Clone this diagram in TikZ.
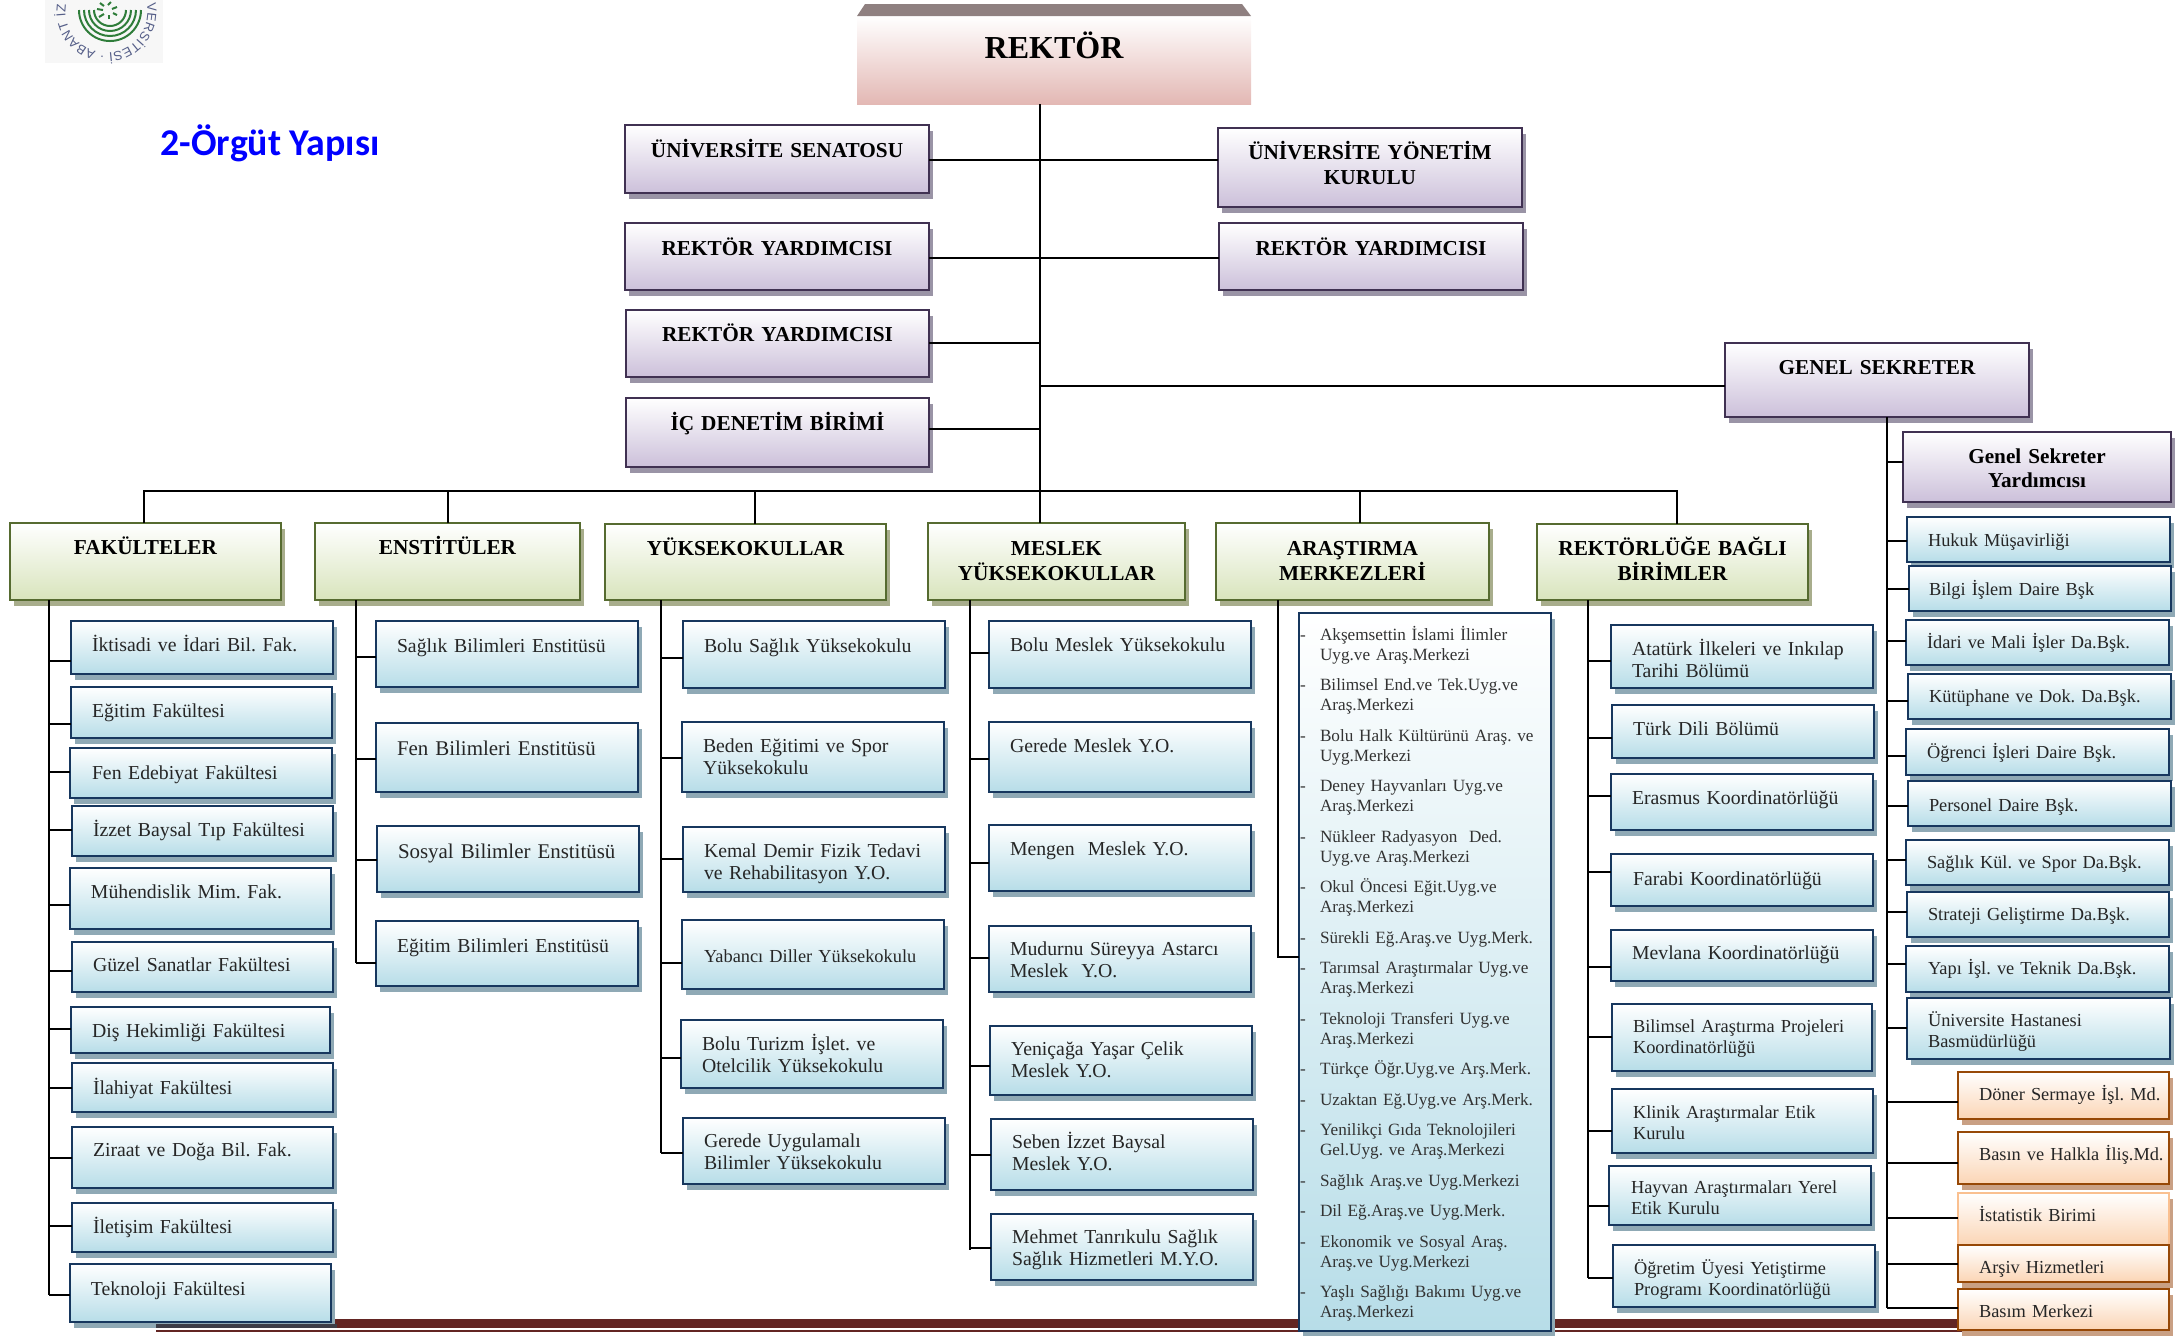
\documentclass[tikz,border=0pt]{standalone}
\usepackage{fontspec}
\setmainfont{Liberation Serif}
\newfontfamily\headfont{Carlito}
\newfontfamily\logofont{Liberation Sans}
\usetikzlibrary{shadows,decorations.text}
\frenchspacing
\newlength\pxu
\setlength\pxu{0.01cm}
\definecolor{blueline}{HTML}{17375E}
\definecolor{bluefill}{HTML}{B7DDE8}
\definecolor{blueshade}{HTML}{8FA9B5}
\definecolor{greenline}{HTML}{566B30}
\definecolor{greenfill}{HTML}{D8E4BC}
\definecolor{greenshade}{HTML}{A8AD8C}
\definecolor{purpleline}{HTML}{403152}
\definecolor{purplefill}{HTML}{CCC0DA}
\definecolor{purpleshade}{HTML}{9A94A6}
\definecolor{orangeline}{HTML}{974806}
\definecolor{orangefill}{HTML}{FBD5B5}
\definecolor{orangeshade}{HTML}{C9A084}
\definecolor{orangelight}{HTML}{FAC090}
\definecolor{rosefill}{HTML}{E3B8B4}
\definecolor{rosetop}{HTML}{8F8080}
\definecolor{barcolor}{HTML}{632523}
\definecolor{barshade}{HTML}{3D3D47}
\definecolor{logogreen}{HTML}{2F7D3A}
\definecolor{logotext}{HTML}{555E88}
\tikzset{
  bx/.style n args={4}{anchor=north west, inner sep=0pt, outer sep=0pt,
    text width=#1*\pxu, text height=#3*\pxu, text depth=(#2-#3)*\pxu,
    execute at begin node={\leftskip=#4\pxu\relax}},
  cx/.style n args={3}{anchor=north west, inner sep=0pt, outer sep=0pt, align=center,
    text width=#1*\pxu, text height=#3*\pxu, text depth=(#2-#3)*\pxu},
  blubox/.style={draw=blueline, line width=2.8\pxu, top color=white, bottom color=bluefill,
    drop shadow={shadow xshift=4\pxu, shadow yshift=-6\pxu, fill=blueshade, opacity=1},
    font=\fontsize{5.62pt}{6.5pt}\selectfont, text=black!85},
  sidebox/.style={blubox, font=\fontsize{5.22pt}{6pt}\selectfont},
  bigbox/.style={blubox, font=\fontsize{5.95pt}{6.5pt}\selectfont},
  orbox/.style={draw=orangeline, line width=2.8\pxu, top color=white, bottom color=orangefill,
    drop shadow={shadow xshift=4\pxu, shadow yshift=-6\pxu, fill=orangeshade, opacity=1},
    font=\fontsize{5.22pt}{6pt}\selectfont, text=black!85},
  grnbox/.style={draw=greenline, line width=2.8\pxu, top color=white, bottom color=greenfill,
    drop shadow={shadow xshift=4\pxu, shadow yshift=-6\pxu, fill=greenshade, opacity=1},
    font=\bfseries\fontsize{6.05pt}{7.25pt}\selectfont},
  purbox/.style={draw=purpleline, line width=2.8\pxu, top color=white, bottom color=purplefill,
    drop shadow={shadow xshift=4\pxu, shadow yshift=-6\pxu, fill=purpleshade, opacity=1},
    font=\bfseries\fontsize{6.05pt}{7.25pt}\selectfont},
  genbox/.style={purbox, font=\bfseries\fontsize{6.03pt}{7.1pt}\selectfont},
  conn/.style={line width=2.4\pxu, black},
  logoline/.style={line width=2\pxu, logogreen}
}
\begin{document}
\begin{tikzpicture}[x=0.01cm, y=-0.01cm]
  \useasboundingbox (0,0) rectangle (2176,1335);
  % logo
  \fill[black!3] (45,0) rectangle (163,63);
  \coordinate (logoc) at (106.5,12);
  \draw[logoline] (79,10) arc[start angle=180, end angle=0, radius=31];
  \draw[logoline] (84,10) arc[start angle=180, end angle=0, radius=26];
  \draw[logoline] (89,10) arc[start angle=180, end angle=0, radius=21];
  \draw[logoline] (94,10) arc[start angle=180, end angle=0, radius=16];
  \draw[logoline] (97,9) -- (103,10);
  \draw[logoline] (99,17) -- (104,14);
  \draw[logoline] (109,19) -- (109,15);
  \draw[logoline] (117,15) -- (113,13);
  \draw[logoline] (117,7) -- (112,9);
  \draw[logoline] (111,2) -- (108,5);
  \draw[logoline] (100,3) -- (104,6);
  \path[decorate, decoration={text along path, text align={fit to path},
    text={|\logofont\fontsize{3.7pt}{3.7pt}\selectfont\color{logotext}|VERSİTESİ · ABANT İZ}}]
    (logoc) ++(-12:41) arc[start angle=-12, end angle=190, radius=41];
  \node[anchor=base west, inner sep=0pt, text=blue, font=\headfont\bfseries\fontsize{10.75pt}{12pt}\selectfont] (baslik) at (160,155) {2-Örgüt Yapısı};

  % bottom bar
  \fill[barcolor] (156,1319) rectangle (1962,1328);
  \fill[barcolor] (156,1329.5) rectangle (1962,1331.5);

  % rector
  \node[anchor=north west, inner sep=0pt, outer sep=0pt, minimum width=394\pxu, minimum height=88\pxu,
    top color=white, bottom color=rosefill, text height=42\pxu, text depth=46\pxu, align=center, text width=394\pxu,
    font=\bfseries\fontsize{9.1pt}{10pt}\selectfont] (rektor) at (857,16) {REKTÖR};
  \fill[rosetop] (rektor.north west) -- ++(8,-12) -- ++(377,0) -- (rektor.north east) -- cycle;

  % staff boxes
  \node[purbox, cx={304}{68}{32}] (senato) at (625,125) {ÜNİVERSİTE SENATOSU};
  \node[purbox, cx={304}{67}{32}] (ry1) at (625,223) {REKTÖR YARDIMCISI};
  \node[purbox, cx={303}{67}{31}] (ry2) at (626,310) {REKTÖR YARDIMCISI};
  \node[purbox, cx={303}{69}{32}] (denetim) at (626,398) {İÇ DENETİM BİRİMİ};
  \node[purbox, cx={304}{79}{31}] (yonetim) at (1218,128) {ÜNİVERSİTE YÖNETİM\\KURULU};
  \node[purbox, cx={304}{67}{32}] (ry3) at (1219,223) {REKTÖR YARDIMCISI};
  \node[genbox, cx={304}{74}{31}] (gensek) at (1725,343) {GENEL SEKRETER};
  \node[genbox, cx={268}{70}{31}] (gsy) at (1903,432) {Genel Sekreter\\Yardımcısı};

  % unit heads
  \node[grnbox, cx={271}{77}{31}] (fak) at (10,523) {FAKÜLTELER};
  \node[grnbox, cx={265}{77}{31}] (ens) at (315,523) {ENSTİTÜLER};
  \node[grnbox, cx={281}{76}{31}] (yuk) at (605,524) {YÜKSEKOKULLAR};
  \node[grnbox, cx={257}{77}{32}] (mes) at (928,523) {MESLEK\\YÜKSEKOKULLAR};
  \node[grnbox, cx={273}{77}{32}] (ars) at (1216,523) {ARAŞTIRMA\\MERKEZLERİ};
  \node[grnbox, cx={271}{76}{31}] (bag) at (1537,524) {REKTÖRLÜĞE BAĞLI\\BİRİMLER};

  % faculties
  \node[blubox, bx={262}{53}{30}{21}] (fak1) at (71,621) {İktisadi ve İdari Bil. Fak.};
  \node[blubox, bx={261}{51}{30}{21}] (fak2) at (71,687) {Eğitim Fakültesi};
  \node[blubox, bx={262}{50}{31}{22}] (fak3) at (70,748) {Fen Edebiyat Fakültesi};
  \node[blubox, bx={261}{50}{30}{21}] (fak4) at (72,806) {İzzet Baysal Tıp Fakültesi};
  \node[blubox, bx={261}{61}{30}{21}] (fak5) at (70,868) {Mühendislik Mim. Fak.};
  \node[blubox, bx={261}{50}{29}{21}] (fak6) at (72,942) {Güzel Sanatlar Fakültesi};
  \node[blubox, bx={259}{46}{30}{21}] (fak7) at (71,1007) {Diş Hekimliği Fakültesi};
  \node[blubox, bx={261}{49}{31}{21}] (fak8) at (72,1063) {İlahiyat Fakültesi};
  \node[blubox, bx={261}{61}{29}{21}] (fak9) at (72,1127) {Ziraat ve Doğa Bil. Fak.};
  \node[blubox, bx={261}{49}{30}{21}] (fak10) at (72,1203) {İletişim Fakültesi};
  \node[blubox, bx={261}{58}{31}{21}] (fak11) at (70,1264) {Teknoloji Fakültesi};
  \fill[barshade] (156,1323.5) rectangle (337,1328);

  % institutes
  \node[blubox, bx={262}{66}{31}{21}] (ens1) at (376,621) {Sağlık Bilimleri Enstitüsü};
  \node[bigbox, bx={262}{69}{32}{21}] (ens2) at (376,723) {Fen Bilimleri Enstitüsü};
  \node[bigbox, bx={262}{66}{32}{21}] (ens3) at (377,826) {Sosyal Bilimler Enstitüsü};
  \node[blubox, bx={262}{65}{31}{21}] (ens4) at (376,921) {Eğitim Bilimleri Enstitüsü};

  % schools
  \node[blubox, bx={262}{67}{31}{21}] (yuk1) at (683,621) {Bolu Sağlık Yüksekokulu};
  \node[blubox, bx={262}{70}{30}{21}] (yuk2) at (682,722) {Beden Eğitimi ve Spor\\Yüksekokulu};
  \node[blubox, bx={262}{65}{30}{21}] (yuk3) at (683,827) {Kemal Demir Fizik Tedavi\\ve Rehabilitasyon Y.O.};
  \node[sidebox, bx={262}{69}{42}{22}] (yuk4) at (682,920) {Yabancı Diller Yüksekokulu};
  \node[blubox, bx={262}{68}{30}{21}] (yuk5) at (681,1020) {Bolu Turizm İşlet. ve\\Otelcilik Yüksekokulu};
  \node[blubox, bx={262}{66}{29}{21}] (yuk6) at (683,1118) {Gerede Uygulamalı\\Bilimler Yüksekokulu};

  % vocational schools
  \node[blubox, bx={262}{67}{30}{21}] (mes1) at (989,621) {Bolu Meslek Yüksekokulu};
  \node[blubox, bx={262}{70}{30}{21}] (mes2) at (989,722) {Gerede Meslek Y.O.};
  \node[blubox, bx={262}{66}{30}{21}] (mes3) at (989,825) {Mengen\ \ Meslek Y.O.};
  \node[blubox, bx={262}{66}{29}{21}] (mes4) at (989,926) {Mudurnu Süreyya Astarcı\\Meslek\ \ Y.O.};
  \node[blubox, bx={262}{69}{29}{21}] (mes5) at (990,1026) {Yeniçağa Yaşar Çelik\\Meslek Y.O.};
  \node[blubox, bx={262}{71}{29}{21}] (mes6) at (991,1119) {Seben İzzet Baysal\\Meslek Y.O.};
  \node[blubox, bx={262}{66}{29}{21}] (mes7) at (991,1214) {Mehmet Tanrıkulu Sağlık\\Sağlık Hizmetleri M.Y.O.};

  % research centres
  \node[blubox, bx={252}{718}{27}{1}, font=\fontsize{4.89pt}{5.69pt}\selectfont, text=black!80] (panel) at (1299,613) {%
    \begin{tabular}[t]{@{}p{20\pxu}@{}l@{}}
    - & Akşemsettin İslami İlimler\\ & Uyg.ve Araş.Merkezi\\[10.5\pxu]
    - & Bilimsel End.ve Tek.Uyg.ve\\ & Araş.Merkezi\\[10.5\pxu]
    - & Bolu Halk Kültürünü Araş. ve\\ & Uyg.Merkezi\\[10.5\pxu]
    - & Deney Hayvanları Uyg.ve\\ & Araş.Merkezi\\[10.5\pxu]
    - & Nükleer Radyasyon\ \ Ded.\\ & Uyg.ve Araş.Merkezi\\[10.5\pxu]
    - & Okul Öncesi Eğit.Uyg.ve\\ & Araş.Merkezi\\[10.5\pxu]
    - & Sürekli Eğ.Araş.ve Uyg.Merk.\\[10.5\pxu]
    - & Tarımsal Araştırmalar Uyg.ve\\ & Araş.Merkezi\\[10.5\pxu]
    - & Teknoloji Transferi Uyg.ve\\ & Araş.Merkezi\\[10.5\pxu]
    - & Türkçe Öğr.Uyg.ve Arş.Merk.\\[10.5\pxu]
    - & Uzaktan Eğ.Uyg.ve Arş.Merk.\\[10.5\pxu]
    - & Yenilikçi Gıda Teknolojileri\\ & Gel.Uyg. ve Araş.Merkezi\\[10.5\pxu]
    - & Sağlık Araş.ve Uyg.Merkezi\\[10.5\pxu]
    - & Dil Eğ.Araş.ve Uyg.Merk.\\[10.5\pxu]
    - & Ekonomik ve Sosyal Araş.\\ & Araş.ve Uyg.Merkezi\\[10.5\pxu]
    - & Yaşlı Sağlığı Bakımı Uyg.ve\\ & Araş.Merkezi
    \end{tabular}};

  % units tied to the rectorate
  \node[blubox, bx={262}{63}{30}{21}] (bag1) at (1611,625) {Atatürk İlkeleri ve Inkılap\\Tarihi Bölümü};
  \node[blubox, bx={262}{53}{30}{21}] (bag2) at (1612,705) {Türk Dili Bölümü};
  \node[blubox, bx={262}{56}{30}{21}] (bag3) at (1611,774) {Erasmus Koordinatörlüğü};
  \node[blubox, bx={262}{52}{31}{22}] (bag4) at (1611,854) {Farabi Koordinatörlüğü};
  \node[blubox, bx={262}{51}{29}{21}] (bag5) at (1611,930) {Mevlana Koordinatörlüğü};
  \node[sidebox, bx={260}{67}{28}{21}] (bag6) at (1612,1004) {Bilimsel Araştırma Projeleri\\Koordinatörlüğü};
  \node[sidebox, bx={261}{64}{29}{21}] (bag7) at (1612,1089) {Klinik Araştırmalar Etik\\Kurulu};
  \node[sidebox, bx={262}{59}{27}{22}] (bag8) at (1609,1166) {Hayvan Araştırmaları Yerel\\Etik Kurulu};
  \node[sidebox, bx={262}{62}{29}{21}] (bag9) at (1613,1245) {Öğretim Üyesi Yetiştirme\\Programı Koordinatörlüğü};

  % general secretariat
  \node[sidebox, bx={263}{45}{29}{21}] (sek1) at (1907,517) {Hukuk Müşavirliği};
  \node[sidebox, bx={262}{45}{29}{20}] (sek2) at (1909,566) {Bilgi İşlem Daire Bşk};
  \node[sidebox, bx={263}{45}{28}{21}] (sek3) at (1906,620) {İdari ve Mali İşler Da.Bşk.};
  \node[sidebox, bx={263}{45}{28}{21}] (sek4) at (1908,674) {Kütüphane ve Dok. Da.Bşk.};
  \node[sidebox, bx={263}{46}{29}{21}] (sek5) at (1906,729) {Öğrenci İşleri Daire Bşk.};
  \node[sidebox, bx={263}{45}{30}{21}] (sek6) at (1908,781) {Personel Daire Bşk.};
  \node[sidebox, bx={263}{45}{28}{21}] (sek7) at (1906,840) {Sağlık Kül. ve Spor Da.Bşk.};
  \node[sidebox, bx={262}{45}{28}{21}] (sek8) at (1907,892) {Strateji Geliştirme Da.Bşk.};
  \node[sidebox, bx={263}{46}{28}{22}] (sek9) at (1906,946) {Yapı İşl. ve Teknik Da.Bşk.};
  \node[sidebox, bx={263}{61}{28}{21}] (sek10) at (1907,998) {Üniversite Hastanesi\\Basmüdürlüğü};
  \node[orbox, bx={211}{47}{28}{21}] (don) at (1958,1072) {Döner Sermaye İşl. Md.};
  \node[orbox, bx={211}{52}{28}{21}] (bas) at (1958,1132) {Basın ve Halkla İliş.Md.};
  \node[orbox, draw=orangelight, bx={211}{52}{28}{21}] (ist) at (1958,1193) {İstatistik Birimi};
  \node[orbox, bx={211}{37}{28}{21}] (arv) at (1958,1245) {Arşiv Hizmetleri};
  \node[orbox, bx={211}{41}{28}{21}] (bsm) at (1958,1289) {Basım Merkezi};

  % trunk points
  \coordinate (rbus) at (1040,491);
  \coordinate (fakt) at (49,600);
  \coordinate (enst) at (356,600);
  \coordinate (yukt) at (661,600);
  \coordinate (mest) at (970,600);
  \coordinate (arst) at (1278,600);
  \coordinate (bagt) at (1588,600);
  \coordinate (gent) at (1887,417);

  \draw[conn] (rektor.south -| rbus) -- (mes.north -| rbus);
  \draw[conn] (senato.east |- 0,160) -- (yonetim.west |- 0,160);
  \draw[conn] (ry1.east |- 0,258) -- (ry3.west |- 0,258);
  \draw[conn] (ry2.east |- 0,343) -- (rbus |- 0,343);
  \draw[conn] (denetim.east |- 0,429) -- (rbus |- 0,429);
  \draw[conn] (rbus |- 0,386) -- (gensek.west |- 0,386);
  \draw[conn] (fak.north -| 144,0) |- (rbus);
  \draw[conn] (ens.north -| 448,0) -- (448,491);
  \draw[conn] (yuk.north -| 755,0) -- (755,491);
  \draw[conn] (ars.north -| 1360,0) -- (1360,491);
  \draw[conn] (bag.north -| 1677,0) |- (rbus);

  \draw[conn] (fakt) -- (fakt |- 0,1295);
  \draw[conn] (fak1.west |- 0,661) -- (fakt |- 0,661);
  \draw[conn] (fak2.west |- 0,724) -- (fakt |- 0,724);
  \draw[conn] (fak3.west |- 0,772) -- (fakt |- 0,772);
  \draw[conn] (fak4.west |- 0,830) -- (fakt |- 0,830);
  \draw[conn] (fak5.west |- 0,905) -- (fakt |- 0,905);
  \draw[conn] (fak6.west |- 0,971) -- (fakt |- 0,971);
  \draw[conn] (fak7.west |- 0,1029) -- (fakt |- 0,1029);
  \draw[conn] (fak8.west |- 0,1088) -- (fakt |- 0,1088);
  \draw[conn] (fak9.west |- 0,1158) -- (fakt |- 0,1158);
  \draw[conn] (fak10.west |- 0,1226) -- (fakt |- 0,1226);
  \draw[conn] (fak11.west |- 0,1295) -- (fakt |- 0,1295);

  \draw[conn] (enst) -- (enst |- 0,963);
  \draw[conn] (ens1.west |- 0,657) -- (enst |- 0,657);
  \draw[conn] (ens2.west |- 0,759) -- (enst |- 0,759);
  \draw[conn] (ens3.west |- 0,860) -- (enst |- 0,860);
  \draw[conn] (ens4.west |- 0,963) -- (enst |- 0,963);

  \draw[conn] (yukt) -- (yukt |- 0,1153);
  \draw[conn] (yuk1.west |- 0,658) -- (yukt |- 0,658);
  \draw[conn] (yuk2.west |- 0,758) -- (yukt |- 0,758);
  \draw[conn] (yuk3.west |- 0,859) -- (yukt |- 0,859);
  \draw[conn] (yuk4.west |- 0,963) -- (yukt |- 0,963);
  \draw[conn] (yuk5.west |- 0,1058) -- (yukt |- 0,1058);
  \draw[conn] (yuk6.west |- 0,1153) -- (yukt |- 0,1153);

  \draw[conn] (mest) -- (mest |- 0,1250);
  \draw[conn] (mes1.west |- 0,653) -- (mest |- 0,653);
  \draw[conn] (mes2.west |- 0,759) -- (mest |- 0,759);
  \draw[conn] (mes3.west |- 0,863) -- (mest |- 0,863);
  \draw[conn] (mes4.west |- 0,958) -- (mest |- 0,958);
  \draw[conn] (mes5.west |- 0,1066) -- (mest |- 0,1066);
  \draw[conn] (mes6.west |- 0,1155) -- (mest |- 0,1155);
  \draw[conn] (mes7.west |- 0,1248) -- (mest |- 0,1248);

  \draw[conn] (arst) |- (panel.west |- 0,957);

  \draw[conn] (bagt) -- (bagt |- 0,1278);
  \draw[conn] (bag1.west |- 0,661) -- (bagt |- 0,661);
  \draw[conn] (bag2.west |- 0,738) -- (bagt |- 0,738);
  \draw[conn] (bag3.west |- 0,796) -- (bagt |- 0,796);
  \draw[conn] (bag4.west |- 0,872) -- (bagt |- 0,872);
  \draw[conn] (bag5.west |- 0,967) -- (bagt |- 0,967);
  \draw[conn] (bag6.west |- 0,1037) -- (bagt |- 0,1037);
  \draw[conn] (bag7.west |- 0,1131) -- (bagt |- 0,1131);
  \draw[conn] (bag8.west |- 0,1206) -- (bagt |- 0,1206);
  \draw[conn] (bag9.west |- 0,1278) -- (bagt |- 0,1278);

  \draw[conn] (gent) -- (gent |- 0,1308);
  \draw[conn] (gsy.west |- 0,462) -- (gent |- 0,462);
  \draw[conn] (sek1.west |- 0,541) -- (gent |- 0,541);
  \draw[conn] (sek2.west |- 0,589) -- (gent |- 0,589);
  \draw[conn] (sek3.west |- 0,641) -- (gent |- 0,641);
  \draw[conn] (sek4.west |- 0,701) -- (gent |- 0,701);
  \draw[conn] (sek5.west |- 0,756) -- (gent |- 0,756);
  \draw[conn] (sek6.west |- 0,806) -- (gent |- 0,806);
  \draw[conn] (sek7.west |- 0,860) -- (gent |- 0,860);
  \draw[conn] (sek8.west |- 0,912) -- (gent |- 0,912);
  \draw[conn] (sek9.west |- 0,964) -- (gent |- 0,964);
  \draw[conn] (sek10.west |- 0,1028) -- (gent |- 0,1028);
  \draw[conn] (don.west |- 0,1102) -- (gent |- 0,1102);
  \draw[conn] (bas.west |- 0,1163) -- (gent |- 0,1163);
  \draw[conn] (ist.west |- 0,1218) -- (gent |- 0,1218);
  \draw[conn] (arv.west |- 0,1264) -- (gent |- 0,1264);
  \draw[conn] (bsm.west |- 0,1308) -- (gent |- 0,1308);
\end{tikzpicture}
\end{document}
